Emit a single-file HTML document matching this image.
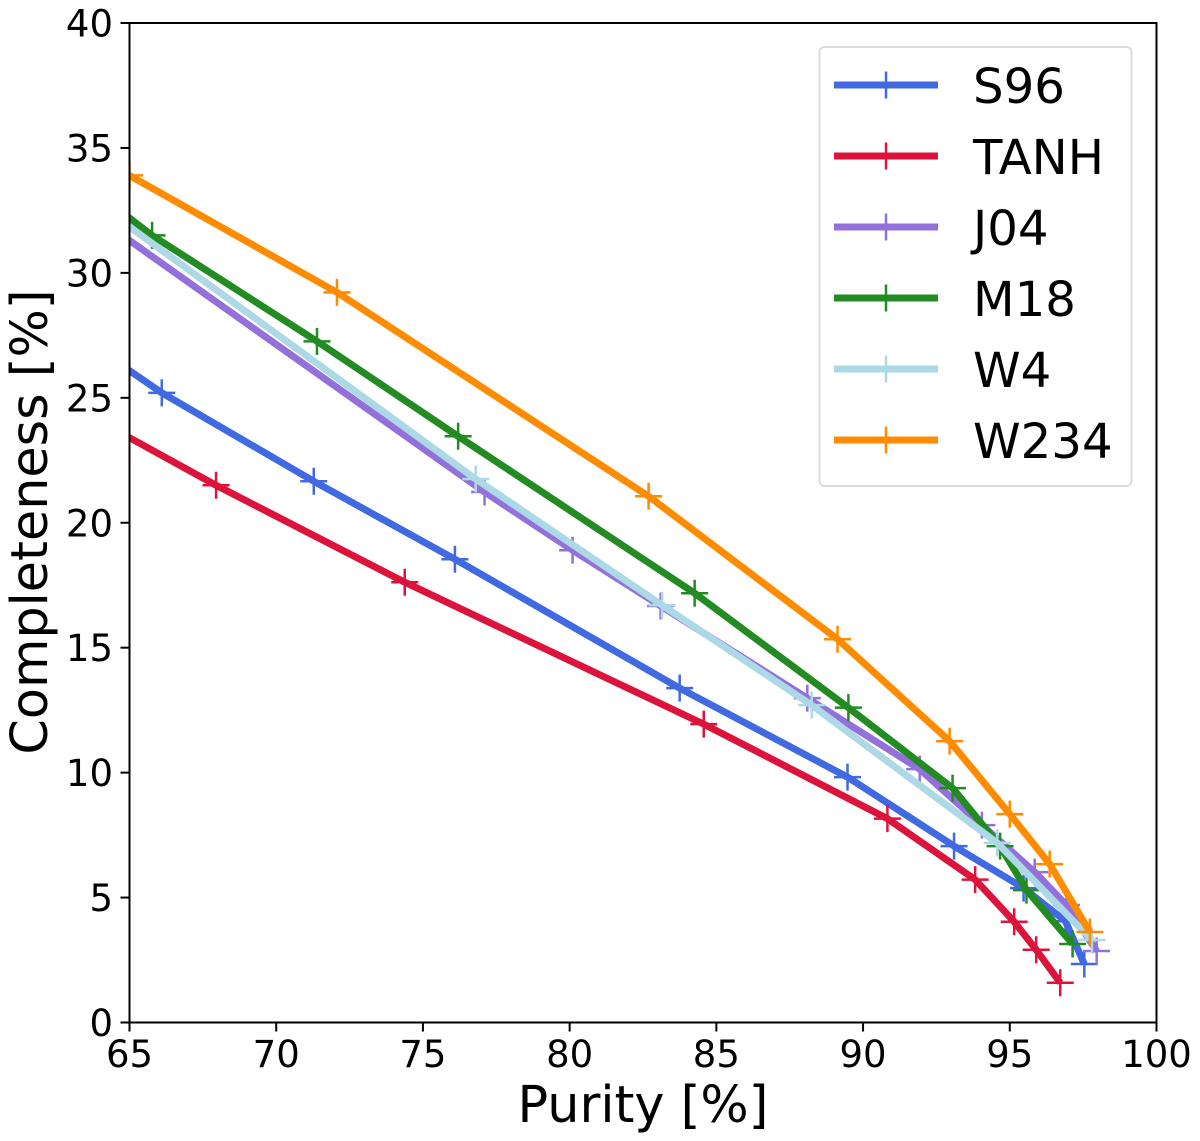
<!DOCTYPE html>
<html lang="en">
<head>
<meta charset="utf-8">
<title>Purity vs Completeness</title>
<style>
html,body{margin:0;padding:0;background:#fff;width:1200px;height:1141px;overflow:hidden}
svg{display:block}
text{font-family:"DejaVu Sans","Liberation Sans",sans-serif;fill:#000}
</style>
</head>
<body>
<svg id="chart" xmlns="http://www.w3.org/2000/svg" width="1200" height="1141" viewBox="0 0 1200 1141"></svg>
<script>
const xTicks = [65, 70, 75, 80, 85, 90, 95, 100];
const yTicks = [0, 5, 10, 15, 20, 25, 30, 35, 40];
const xLabelText = 'Purity [%]';
const yLabelText = 'Completeness [%]';

const seriesNames = ['S96', 'TANH', 'J04', 'M18', 'W4', 'W234'];
const seriesColors = ['#4169e1', '#dc143c', '#9370db', '#228b22', '#add8e6', '#ff8c00'];

const s96Purity = [64, 66.1, 71.28, 76.09, 83.75, 89.47, 93.1, 95.47, 96.9, 97.54];
const s96Completeness = [26.9, 25.2, 21.66, 18.54, 13.38, 9.82, 7.06, 5.38, 4.05, 2.34];

const tanhPurity = [64, 67.95, 74.38, 84.57, 90.83, 93.82, 95.15, 95.9, 96.72];
const tanhCompleteness = [24.05, 21.5, 17.62, 11.94, 8.16, 5.72, 4.03, 2.91, 1.59];

const j04Purity = [64, 77.1, 80.1, 83.1, 88.1, 91.93, 94.05, 95.85, 96.93, 97.96];
const j04Completeness = [32.13, 21.23, 18.9, 16.67, 12.98, 10.14, 7.9, 6.02, 4.7, 2.86];

const m18Purity = [64, 65.77, 71.39, 76.2, 84.26, 89.5, 93.05, 94.67, 95.57, 97.14];
const m18Completeness = [33.1, 31.5, 27.26, 23.46, 17.18, 12.6, 9.38, 7.06, 5.3, 3.14];

const w4Purity = [64, 76.8, 83.15, 88.25, 94.57, 97.8];
const w4Completeness = [32.7, 21.75, 16.7, 12.7, 7.19, 3.3];

const w234Purity = [65, 72.07, 82.69, 89.13, 92.95, 95, 96.36, 97.73];
const w234Completeness = [33.9, 29.22, 21.06, 15.34, 11.26, 8.34, 6.34, 3.62];

const purityBySeries = [s96Purity, tanhPurity, j04Purity, m18Purity, w4Purity, w234Purity];
const completenessBySeries = [s96Completeness, tanhCompleteness, j04Completeness, m18Completeness, w4Completeness, w234Completeness];

const NS = 'http://www.w3.org/2000/svg';
const svg = document.getElementById('chart');
const plot = { left: 129.5, right: 1156.5, top: 23, bottom: 1022.5 };
const xMin = 65, xMax = 100, yMin = 0, yMax = 40;

function xScale(v) { return plot.left + (v - xMin) / (xMax - xMin) * (plot.right - plot.left); }
function yScale(v) { return plot.bottom - (v - yMin) / (yMax - yMin) * (plot.bottom - plot.top); }

function make(tag, attrs, parent) {
  const el = document.createElementNS(NS, tag);
  for (const k in attrs) el.setAttribute(k, attrs[k]);
  (parent || svg).appendChild(el);
  return el;
}

const defs = make('defs', {});
const clip = make('clipPath', { id: 'plot-clip' }, defs);
make('rect', { x: plot.left, y: plot.top, width: plot.right - plot.left, height: plot.bottom - plot.top }, clip);

const marks = make('g', { 'clip-path': 'url(#plot-clip)' });



const MARKER_HALF = 13.5, MARKER_W = 2.5, LINE_W = 7;

function plusPath(px, py) {
  return 'M' + (px - MARKER_HALF) + ' ' + py + 'H' + (px + MARKER_HALF) +
         'M' + px + ' ' + (py - MARKER_HALF) + 'V' + (py + MARKER_HALF);
}

seriesNames.forEach(function (name, i) {
  const g = make('g', {}, marks);
  
  
  const xs = purityBySeries[i], ys = completenessBySeries[i];
  const pts = xs.map(function (x, j) { return xScale(x) + ',' + yScale(ys[j]); }).join(' ');
  const line = make('polyline', { points: pts, fill: 'none', stroke: seriesColors[i], 'stroke-width': LINE_W, 'stroke-linejoin': 'round', 'stroke-linecap': 'butt' }, g);
  
  
  xs.forEach(function (x, j) {
    const m = make('path', { d: plusPath(xScale(x), yScale(ys[j])), fill: 'none', stroke: seriesColors[i], 'stroke-width': MARKER_W }, g);
    
    
  });
});

/* spines */
const spines = make('rect', { x: plot.left, y: plot.top, width: plot.right - plot.left, height: plot.bottom - plot.top, fill: 'none', stroke: '#000', 'stroke-width': 2 });



/* ticks */
const xAxis = make('g', {});


xTicks.forEach(function (t) {
  const px = xScale(t);
  const tick = make('line', { x1: px, x2: px, y1: plot.bottom, y2: plot.bottom + 9, stroke: '#000', 'stroke-width': 2 }, xAxis);
  
  
  const lab = make('text', { x: px, y: 1067, 'font-size': 37, 'text-anchor': 'middle' }, xAxis);
  lab.textContent = t;
  
  
});

const yAxis = make('g', {});


yTicks.forEach(function (t) {
  const py = yScale(t);
  const tick = make('line', { x1: plot.left - 9, x2: plot.left, y1: py, y2: py, stroke: '#000', 'stroke-width': 2 }, yAxis);
  
  
  const lab = make('text', { x: 113, y: py + 13.5, 'font-size': 37, 'text-anchor': 'end' }, yAxis);
  lab.textContent = t;
  
  
});

/* axis titles */
const xTitle = make('text', { x: 643, y: 1122, 'font-size': 50.8, 'text-anchor': 'middle' });
xTitle.textContent = xLabelText;



const yTitle = make('text', { x: 0, y: 0, 'font-size': 50.8, 'text-anchor': 'middle', transform: 'translate(47 522) rotate(-90)' });
yTitle.textContent = yLabelText;



/* legend */
const legend = make('g', {});


const legendBox = make('rect', { x: 819.5, y: 47, width: 312, height: 439, rx: 5, ry: 5, fill: '#fff', 'fill-opacity': 0.8, stroke: '#dcdcdc', 'stroke-width': 2 }, legend);


seriesNames.forEach(function (name, i) {
  const rowY = 85 + i * 71;
  const row = make('g', {}, legend);
  
  
  make('line', { x1: 834, x2: 938, y1: rowY, y2: rowY, stroke: seriesColors[i], 'stroke-width': LINE_W }, row);
  make('line', { x1: 886, x2: 886, y1: rowY - MARKER_HALF, y2: rowY + MARKER_HALF, stroke: seriesColors[i], 'stroke-width': MARKER_W }, row);
  const lab = make('text', { x: 973, y: rowY + 18, 'font-size': 48.2 }, row);
  lab.textContent = name;
  
  
});
</script>
</body>
</html>
